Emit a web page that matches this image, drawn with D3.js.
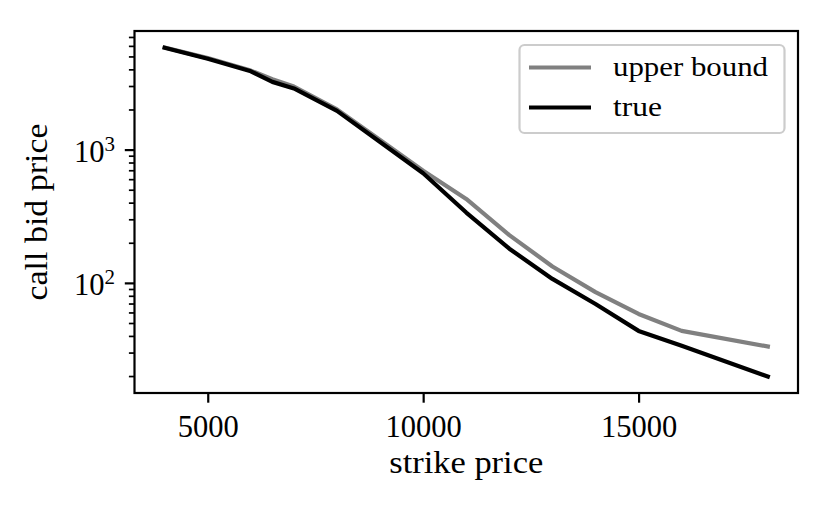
<!DOCTYPE html>
<html><head><meta charset="utf-8">
<script src="https://cdn.jsdelivr.net/npm/d3@7"></script>
<style>
body{margin:0;background:#fff}
text{font-family:"Liberation Serif","Times New Roman",serif;fill:#000}
</style>
</head><body>
<svg id="chart" width="830" height="513"></svg>
<script>
// ---- data ----
const strikes      = [4000, 5000, 6000, 6500, 7000, 8000, 9000, 10000, 11000, 12000, 13000, 14000, 15000, 16000, 18000];
const upperBound   = [5890, 4900, 3950, 3400, 3000, 2020, 1190, 700, 430, 230, 134, 86, 59, 44, 33.6];
const trueValues   = [5850, 4850, 3900, 3250, 2900, 1970, 1150, 670, 340, 182, 108, 70, 44, 34, 20];
const xTickValues  = [5000, 10000, 15000];
const yMajorTicks  = [100, 1000];
const seriesNames  = ["upper bound", "true"];
const seriesColors = ["#808080", "#000000"];
const xLabel = "strike price";
const yLabel = "call bid price";

// ---- layout ----
const svg = d3.select("#chart");
const L = 134.5, R = 798, T = 31, B = 393;
const FS = 30.5;

// matplotlib-like 5% margins
const xmin = d3.min(strikes), xmax = d3.max(strikes);
const xm = (xmax - xmin) * 0.05;
const x = d3.scaleLinear().domain([xmin - xm, xmax + xm]).range([L, R]);

const allY = upperBound.concat(trueValues);
const lmin = Math.log10(d3.min(allY)), lmax = Math.log10(d3.max(allY));
const lm = (lmax - lmin) * 0.05;
const y = d3.scaleLog().domain([Math.pow(10, lmin - lm), Math.pow(10, lmax + lm)]).range([B, T]);

// lines
const line = d3.line().x((d, i) => x(strikes[i])).y(d => y(d));
[upperBound, trueValues].forEach((s, k) => {
  svg.append("path").datum(s).attr("d", line)
    .attr("fill", "none").attr("stroke", seriesColors[k])
    .attr("stroke-width", 4.2).attr("stroke-linejoin", "round").attr("stroke-linecap", "square");
});

// x axis ticks
const xAxis = d3.axisBottom(x).tickValues(xTickValues).tickSize(9.7).tickPadding(0).tickFormat(d3.format("d"));
const gx = svg.append("g").attr("transform", `translate(0,${B})`).call(xAxis);
gx.select(".domain").remove();
gx.selectAll(".tick line").attr("stroke", "#000").attr("stroke-width", 2.2);
gx.selectAll(".tick text").attr("font-size", FS).attr("y", 43.5).attr("dy", null)
  .style("font-family", '"Liberation Serif",serif');

// y minor ticks
const [d0, d1] = y.domain();
const minor = [];
for (let e = Math.floor(Math.log10(d0)); e <= Math.ceil(Math.log10(d1)); e++) {
  for (let m = 2; m <= 9; m++) {
    const v = m * Math.pow(10, e);
    if (v >= d0 && v <= d1) minor.push(v);
  }
}
svg.append("g").selectAll("line").data(minor).join("line")
  .attr("x1", L).attr("x2", L - 5.6).attr("y1", d => y(d)).attr("y2", d => y(d))
  .attr("stroke", "#000").attr("stroke-width", 1.7);

// y major ticks
const gy = svg.append("g");
gy.selectAll("line").data(yMajorTicks).join("line")
  .attr("x1", L).attr("x2", L - 9.7).attr("y1", d => y(d)).attr("y2", d => y(d))
  .attr("stroke", "#000").attr("stroke-width", 2.2);
const yl = gy.selectAll("text").data(yMajorTicks).join("text")
  .attr("x", L - 19.4).attr("y", d => y(d) + 11.5).attr("text-anchor", "end").attr("font-size", FS);
yl.append("tspan").text("10");
yl.append("tspan").attr("font-size", 21).attr("dy", -11).text(d => Math.round(Math.log10(d)));

// frame
svg.append("rect").attr("x", L).attr("y", T).attr("width", R - L).attr("height", B - T)
  .attr("fill", "none").attr("stroke", "#000").attr("stroke-width", 2.2);

// axis labels
svg.append("text").attr("x", (L + R) / 2).attr("y", 473).attr("text-anchor", "middle")
  .attr("font-size", FS).attr("textLength", 154).attr("lengthAdjust", "spacingAndGlyphs").text(xLabel);
svg.append("text").attr("transform", `translate(47,${(T + B) / 2}) rotate(-90)`).attr("text-anchor", "middle")
  .attr("font-size", FS).attr("textLength", 177).attr("lengthAdjust", "spacingAndGlyphs").text(yLabel);

// legend
const lg = svg.append("g");
lg.append("rect").attr("x", 519.5).attr("y", 45).attr("width", 265).attr("height", 88).attr("rx", 5)
  .attr("fill", "#fff").attr("fill-opacity", 0.8).attr("stroke", "#cccccc").attr("stroke-width", 2.2);
const legY = [67.5, 107.5];
const legLen = [155, 49];
seriesNames.forEach((n, i) => {
  lg.append("line").attr("x1", 529).attr("x2", 591).attr("y1", legY[i]).attr("y2", legY[i])
    .attr("stroke", seriesColors[i]).attr("stroke-width", 4.2);
  lg.append("text").attr("x", 613).attr("y", legY[i] + 8.5).attr("font-size", 28)
    .attr("textLength", legLen[i]).attr("lengthAdjust", "spacingAndGlyphs").text(n);
});
</script>
</body></html>
